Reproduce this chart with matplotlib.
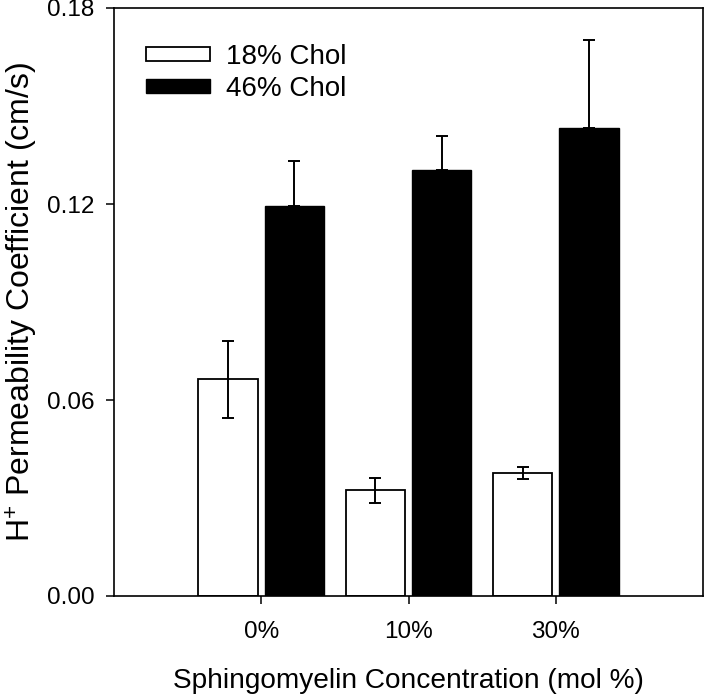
import matplotlib
matplotlib.use("Agg")
import matplotlib.pyplot as plt
import numpy as np

plt.rcParams['font.family'] = ['Liberation Sans', 'DejaVu Sans']
plt.rcParams['mathtext.fontset'] = 'custom'
plt.rcParams['mathtext.rm'] = 'Liberation Sans'
plt.rcParams['mathtext.it'] = 'Liberation Sans'

categories = ["0%", "10%", "30%"]
chol18 = [0.0663, 0.0324, 0.0376]
chol18_err = [0.0118, 0.0038, 0.0018]
chol46 = [0.1195, 0.1304, 0.1434]
chol46_err = [0.0138, 0.0104, 0.0268]
yticks = [0.00, 0.06, 0.12, 0.18]

fig = plt.figure(figsize=(7.05, 6.95), dpi=100)
ax = fig.add_axes([114/705, 1-596/695, (703-114)/705, (596-8)/695])

x = np.arange(1, len(categories) + 1)
w = 0.405
off = 0.225
ax.bar(x - off, chol18, w, color='white', edgecolor='black', linewidth=1.3, label='18% Chol', zorder=2)
ax.bar(x + off, chol46, w, color='black', edgecolor='black', linewidth=1.0, label='46% Chol', zorder=2)
ax.errorbar(x - off, chol18, yerr=chol18_err, fmt='none', ecolor='black', elinewidth=1.4,
            capsize=4.5, capthick=1.4, zorder=3)
ax.errorbar(x + off, chol46, yerr=[np.zeros(len(chol46)), chol46_err], fmt='none', ecolor='black',
            elinewidth=1.4, capsize=4.5, capthick=1.4, zorder=3)

ax.set_xlim(0, 4)
ax.set_ylim(0, 0.18)
ax.set_xticks(x)
ax.set_xticklabels(categories)
ax.set_yticks(yticks)
ax.set_yticklabels([f"{v:.2f}" for v in yticks])
ax.tick_params(axis='both', direction='out', length=6, width=1.1, labelsize=17.5, pad=8)
ax.tick_params(axis='x', pad=12)
for s in ax.spines.values():
    s.set_linewidth(1.2)

ax.set_xlabel("Sphingomyelin Concentration (mol %)", fontsize=20.2, labelpad=18)
ax.set_ylabel(r"H$^{+}$ Permeability Coefficient (cm/s)", fontsize=23, labelpad=5)

ax.legend(loc='upper left', frameon=False, fontsize=20, handlelength=2.3, handleheight=0.4,
          handletextpad=0.6, labelspacing=0.22, bbox_to_anchor=(0.021, 0.972), borderaxespad=0.3)

fig.savefig("out.png", dpi=100)
